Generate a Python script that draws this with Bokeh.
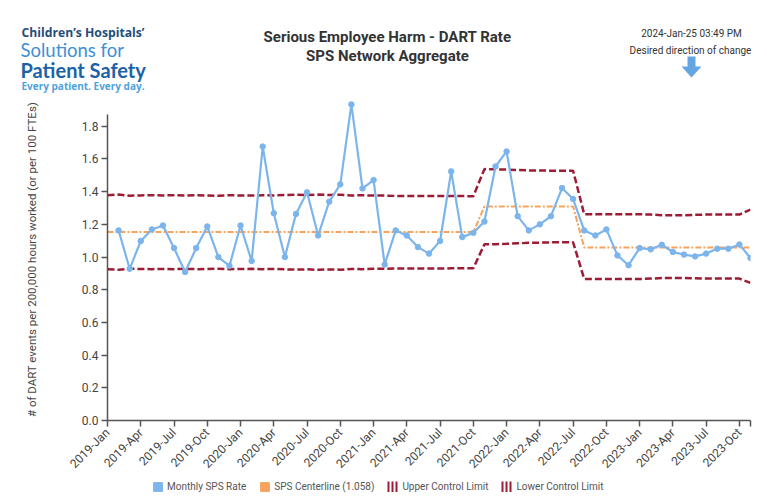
from bokeh.plotting import figure
from bokeh.models import Range1d, FixedTicker, Legend, LegendItem
from bokeh.core.properties import value
from bokeh.embed import file_html
from bokeh.resources import INLINE
import math

# ---------------- data ----------------
tick_labels = ["2019-Jan", "2019-Apr", "2019-Jul", "2019-Oct",
               "2020-Jan", "2020-Apr", "2020-Jul", "2020-Oct",
               "2021-Jan", "2021-Apr", "2021-Jul", "2021-Oct",
               "2022-Jan", "2022-Apr", "2022-Jul", "2022-Oct",
               "2023-Jan", "2023-Apr", "2023-Jul", "2023-Oct"]
y_ticks = [0.0, 0.2, 0.4, 0.6, 0.8, 1.0, 1.2, 1.4, 1.6, 1.8]

# monthly rate, 2019-Feb .. 2023-Nov (month index 1..58)
rate = [1.163, 0.928, 1.098, 1.169, 1.193, 1.055, 0.909, 1.055, 1.187, 1.000, 0.946,
        1.193, 0.976, 1.676, 1.268, 1.000, 1.264, 1.396, 1.132, 1.339, 1.445, 1.934, 1.420,
        1.471, 0.954, 1.163, 1.132, 1.061, 1.021, 1.098, 1.524, 1.122, 1.148, 1.217, 1.554,
        1.646, 1.250, 1.163, 1.200, 1.250, 1.422, 1.355, 1.163, 1.132, 1.169, 1.010, 0.950,
        1.055, 1.047, 1.075, 1.031, 1.015, 1.004, 1.021, 1.051, 1.051, 1.077, 0.994]
rate_month = list(range(1, 59))

# control chart lines, 2019-Jan .. 2023-Nov (month index 0..58)
centerline = [1.153] * 34 + [1.309] * 9 + [1.058] * 16
ucl = [1.378, 1.382, 1.375, 1.377, 1.378, 1.377, 1.378, 1.376, 1.378, 1.377, 1.375, 1.378,
       1.377, 1.376, 1.378, 1.377, 1.379, 1.381, 1.379, 1.382, 1.380, 1.381, 1.377, 1.378,
       1.376, 1.376, 1.374, 1.374, 1.374, 1.374, 1.374, 1.373, 1.373, 1.372,
       1.538, 1.537, 1.535, 1.533, 1.530, 1.530, 1.528, 1.528, 1.528,
       1.262, 1.262, 1.262, 1.262, 1.262, 1.262, 1.260, 1.256, 1.255, 1.256, 1.258,
       1.260, 1.260, 1.260, 1.260, 1.290]
lcl = [0.926, 0.922, 0.929, 0.927, 0.926, 0.927, 0.926, 0.928, 0.926, 0.927, 0.929, 0.926,
       0.927, 0.928, 0.926, 0.927, 0.925, 0.923, 0.925, 0.922, 0.924, 0.923, 0.927, 0.926,
       0.928, 0.928, 0.930, 0.930, 0.930, 0.930, 0.930, 0.931, 0.931, 0.932,
       1.078, 1.079, 1.081, 1.084, 1.087, 1.088, 1.090, 1.090, 1.090,
       0.866, 0.866, 0.866, 0.866, 0.866, 0.866, 0.868, 0.872, 0.872, 0.872, 0.870,
       0.868, 0.868, 0.868, 0.868, 0.842]
limit_month = list(range(0, 59))

legend_labels = ["Monthly SPS Rate", "SPS Centerline (1.058)",
                 "Upper Control Limit", "Lower Control Limit"]

FONT = "Roboto"
W = 767
BLUE, ORANGE, RED = "#7cb5ec", "#f7a35c", "#9b1d35"


def bare(fig):
    fig.outline_line_color = None
    fig.grid.visible = False
    fig.background_fill_color = "white"
    fig.border_fill_color = "white"
    return fig


# ---------------- header (page pixel coordinates) ----------------
HH = 98
head = bare(figure(width=W, height=HH, output_backend="svg", toolbar_location=None,
                   title=None, x_range=Range1d(0, W), y_range=Range1d(HH, 0),
                   x_axis_type=None, y_axis_type=None, min_border=0))


def txt(t, x, y, size, color="#333333", bold=False, align="left", font=FONT):
    head.text(x=[x], y=[y], text=[t], text_font=value(font), text_font_size=size,
              text_color=color, text_font_style="bold" if bold else "normal",
              text_align=align, text_baseline="middle")


txt("Children\u2019s Hospitals\u2019", 21, 32, "12.2px", "#1f4e79", True, font="Open Sans")
txt("Solutions for", 20, 49, "18.5px", "#3d8fd6", False, font="Lato")
txt("Patient Safety", 20, 69, "20px", "#1b62a8", True, font="Lato")
txt("Every patient. Every day.", 21, 85, "10px", "#4fa3dc", True, font="Open Sans")
txt("Serious Employee Harm - DART Rate", 387, 36, "15px", "#333333", True, "center")
txt("SPS Network Aggregate", 387, 55, "15px", "#333333", True, "center")
txt("2024-Jan-25 03:49 PM", 691, 33, "10px", "#333333", False, "center")
txt("Desired direction of change", 690, 50, "10px", "#333333", False, "center")
head.patch([687, 695, 695, 701, 691, 681, 687], [56, 56, 66, 66, 77, 66, 66],
           fill_color="#64a6e2", line_color=None)

# ---------------- main chart ----------------
MH = 380           # page 98 .. 478
FH = 324           # frame height -> 0..1.97
p = bare(figure(width=W, height=MH, output_backend="svg", toolbar_location=None,
                title=None, x_range=Range1d(0, 58), y_range=Range1d(0, 1.97),
                min_border_left=107, min_border_right=W - 750,
                min_border_top=0, min_border_bottom=MH - FH))

p.line(limit_month, ucl, line_color=RED, line_width=2.5, line_dash="7 3")
p.line(limit_month, lcl, line_color=RED, line_width=2.5, line_dash="7 3")
p.line(limit_month, centerline, line_color=ORANGE, line_width=2, line_dash="6 2 2 2")
p.line(rate_month, rate, line_color=BLUE, line_width=2.2)
p.scatter(rate_month, rate, size=5.5, fill_color=BLUE, line_color=BLUE)

tick_pos = [3 * i for i in range(len(tick_labels))]
xa = p.xaxis[0]
xa.ticker = FixedTicker(ticks=tick_pos + [58])
xa.major_label_overrides = {**{t: l for t, l in zip(tick_pos, tick_labels)}, 58: ""}
xa.major_label_orientation = math.pi / 4
xa.major_label_text_font_size = "12px"
xa.major_label_standoff = 4

ya = p.yaxis[0]
ya.ticker = FixedTicker(ticks=y_ticks)
ya.major_label_overrides = {t: f"{t:.1f}" for t in y_ticks}
ya.bounds = (0, 1.87)
ya.major_label_text_font_size = "12px"
ya.major_label_standoff = 3
ya.axis_label = "# of DART events per 200,000 hours worked (or per 100 FTEs)"
ya.axis_label_text_font = FONT
ya.axis_label_text_font_size = "11.5px"
ya.axis_label_text_font_style = "normal"
ya.axis_label_text_color = "#444444"
ya.axis_label_standoff = 40

for ax in (xa, ya):
    ax.minor_tick_line_color = None
    ax.major_tick_in = 0
    ax.major_tick_out = 6
    ax.axis_line_color = "#555555"
    ax.axis_line_width = 1.5
    ax.major_tick_line_color = "#555555"
    ax.major_tick_line_width = 1.5
    ax.major_label_text_font = FONT
    ax.major_label_text_color = "#444444"

# ---------------- legend strip ----------------
LH = 498 - HH - MH
leg = bare(figure(width=W, height=LH, output_backend="svg", toolbar_location=None,
                  title=None, x_range=Range1d(0, 1), y_range=Range1d(0, 1),
                  x_axis_type=None, y_axis_type=None, min_border=0))
nan = float("nan")
r1 = leg.quad(left=[nan], right=[nan], top=[nan], bottom=[nan], fill_color=BLUE, line_color=BLUE)
r2 = leg.quad(left=[nan], right=[nan], top=[nan], bottom=[nan], fill_color=ORANGE, line_color=ORANGE)
r3 = leg.line([nan, nan], [nan, nan], line_color=RED, line_width=11, line_dash="2 2")
r4 = leg.line([nan, nan], [nan, nan], line_color=RED, line_width=11, line_dash="2 2")
legend = Legend(items=[LegendItem(label=l, renderers=[r]) for l, r in
                       zip(legend_labels, [r1, r2, r3, r4])],
                orientation="horizontal", location=(152, 6),
                glyph_width=11, glyph_height=11, label_standoff=4, spacing=13,
                padding=0, margin=0, border_line_color=None, background_fill_alpha=0,
                label_text_font=FONT, label_text_font_size="10px",
                label_text_color="#555555", label_height=11)
leg.add_layout(legend, "center")

open("out.html", "w").write(file_html([head, p, leg], INLINE))
